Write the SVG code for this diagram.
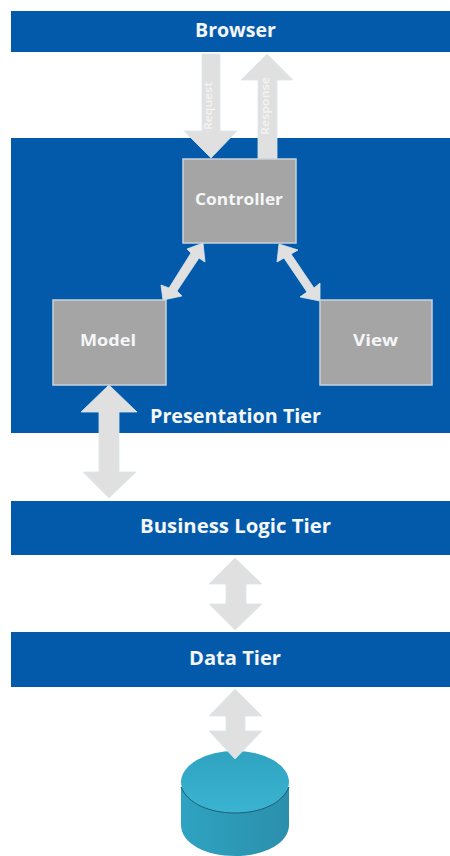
<svg xmlns="http://www.w3.org/2000/svg" width="450" height="856" viewBox="0 0 450 856">
<defs>
<linearGradient id="top" x1="0" y1="0" x2="0" y2="1"><stop offset="0" stop-color="#2fa3c0"/><stop offset="1" stop-color="#3ab4d2"/></linearGradient>
<linearGradient id="side" x1="0" y1="0" x2="1" y2="0"><stop offset="0" stop-color="#2ea3c1"/><stop offset="1" stop-color="#2b8fac"/></linearGradient>
</defs>
<style>
.tier{fill:#045aaa}
.box{fill:#a5a5a5;stroke:#c9d3dc;stroke-width:1.5}
.arrow{fill:#e0e0e0;stroke:#d9e8ee;stroke-width:.8}
text{font-family:"Open Sans","Liberation Sans",sans-serif;font-weight:700;fill:#f4f6f8;text-anchor:middle}
.t{font-size:19px}
.n{font-size:16.5px}
.s{font-size:11px;fill:#f4f4f4;font-weight:600}
</style>
<rect width="450" height="856" fill="#fff"/>
<g id="browser"><rect class="tier" x="11" y="11" width="439" height="41"/><text class="t" x="235.500" y="37" textLength="81" lengthAdjust="spacingAndGlyphs">Browser</text></g>
<g id="presentation-tier"><rect class="tier" x="11" y="138" width="439" height="295"/><text class="t" x="235.500" y="423" textLength="171" lengthAdjust="spacingAndGlyphs">Presentation Tier</text></g>
<g id="business-logic-tier"><rect class="tier" x="11" y="501" width="439" height="54"/><text class="t" x="235.500" y="533" textLength="191" lengthAdjust="spacingAndGlyphs">Business Logic Tier</text></g>
<g id="data-tier"><rect class="tier" x="11" y="632" width="439" height="55"/><text class="t" x="235" y="665" textLength="92" lengthAdjust="spacingAndGlyphs">Data Tier</text></g>
<g id="database">
<path d="M181 787V825C181 843 205 856 235 856S289 843 289 825V787Z" fill="url(#side)"/>
<ellipse cx="235" cy="782" rx="54" ry="31" fill="url(#top)"/>
<path d="M181 787C188 804 210 813 235 813S282 804 289 787" fill="none" stroke="#1f5f74" stroke-width="1"/>
</g>
<g id="connectors">
<path class="arrow" d="M202 54H220V131H237L211 158L184 131H202Z"/>
<path class="arrow" d="M258 159V80H241L267 54L293 80H277V159Z"/>
<path class="arrow" d="M203 243L205 262L199 258L177 291L182 296L163 300L161 285L169 288L191 253L187 249Z"/>
<path class="arrow" d="M279 244L298 250L291 254L314 288L320 283L320 301L300 297L307 292L284 258L277 262Z"/>
<path class="arrow" d="M109 385L137 412H119V472H136L109 498L83 472H99V412H81Z"/>
<path class="arrow" d="M235 558L262 584H246V604H262L235 630L209 604H226V584H209Z"/>
<path class="arrow" d="M235 689L262 716H245V731H262L235 759L209 731H226V716H209Z"/>
</g>
<g id="controller"><rect class="box" x="183" y="159" width="113" height="84"/><text class="n" x="239" y="205" textLength="88" lengthAdjust="spacingAndGlyphs">Controller</text></g>
<g id="model"><rect class="box" x="53" y="300" width="113" height="85"/><text class="n" x="108" y="346" textLength="56" lengthAdjust="spacingAndGlyphs">Model</text></g>
<g id="view"><rect class="box" x="320" y="300" width="112" height="85"/><text class="n" x="375.500" y="346" textLength="45" lengthAdjust="spacingAndGlyphs">View</text></g>
<g id="connector-labels">
<text class="s" transform="translate(212 106) rotate(-90)" textLength="48" lengthAdjust="spacingAndGlyphs">Request</text>
<text class="s" transform="translate(269 106) rotate(-90)" textLength="58" lengthAdjust="spacingAndGlyphs">Response</text>
</g>
</svg>
